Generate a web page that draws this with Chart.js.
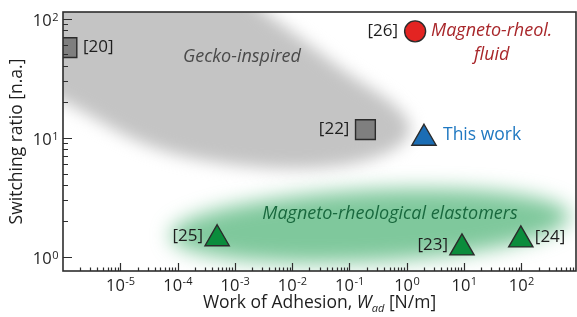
<!DOCTYPE html>
<html>
<head>
<meta charset="utf-8">
<script src="https://cdn.jsdelivr.net/npm/chart.js@4"></script>
<style>
  body { margin: 0; background: #fff; }
  #wrap { width: 577px; height: 317px; }
</style>
</head>
<body>
<div id="wrap"><canvas id="chart" width="577" height="317"></canvas></div>
<script>
const FONT = '"Open Sans", sans-serif';

// values
const geckoX = [1.17e-6, 0.19];
const geckoY = [57, 11.7];
const geckoRefs = ['[20]', '[22]'];

const fluidX = [1.4];
const fluidY = [78];
const fluidRefs = ['[26]'];

const thisX = [2.0];
const thisY = [9.9];

const mreX = [4.9e-4, 9.2, 98];
const mreY = [1.42, 1.19, 1.39];
const mreRefs = ['[25]', '[23]', '[24]'];

const xExponents = [-5, -4, -3, -2, -1, 0, 1, 2];
const yExponents = [0, 1, 2];

// shaded group outlines, in log10 data units
const geckoZoneLogX = [-7.10, -6.0, -4.48, -2.74, -1.25, -0.26, 0.15, -0.20, -0.99, -1.86, -2.65, -3.26, -7.10];
const geckoZoneLogY = [1.533, 1.320, 0.890, 0.740, 0.740, 0.870, 1.060, 1.290, 1.520, 1.840, 2.110, 2.417, 2.417];
const mreZone = { logX: -0.642, logY: 0.261, rxDec: 3.49, ryDec: 0.30, tilt: -0.05 };

function pts(xs, ys) {
  return xs.map((x, i) => ({ x: x, y: ys[i] }));
}

const zones = {
  id: 'zones',
  beforeDatasetsDraw(chart) {
    const ctx = chart.ctx, a = chart.chartArea;
    const xs = chart.scales.x, ys = chart.scales.y;
    ctx.save();
    ctx.beginPath();
    ctx.rect(a.left, a.top, a.right - a.left, a.bottom - a.top);
    ctx.clip();

    // gecko-inspired (gray)
    const p = geckoZoneLogX.map((lx, i) => [xs.getPixelForValue(Math.pow(10, lx)), ys.getPixelForValue(Math.pow(10, geckoZoneLogY[i]))]);
    ctx.filter = 'blur(8px)';
    ctx.fillStyle = '#c4c4c4';
    ctx.beginPath();
    const n = p.length;
    const mid = (u, v) => [(u[0] + v[0]) / 2, (u[1] + v[1]) / 2];
    let m0 = mid(p[n - 1], p[0]);
    ctx.moveTo(m0[0], m0[1]);
    for (let i = 0; i < n; i++) {
      const m = mid(p[i], p[(i + 1) % n]);
      ctx.quadraticCurveTo(p[i][0], p[i][1], m[0], m[1]);
    }
    ctx.closePath();
    ctx.fill();

    // magneto-rheological elastomers (green)
    const cx = xs.getPixelForValue(Math.pow(10, mreZone.logX));
    const cy = ys.getPixelForValue(Math.pow(10, mreZone.logY));
    const rx = xs.getPixelForValue(Math.pow(10, mreZone.logX + mreZone.rxDec)) - cx;
    const ry = cy - ys.getPixelForValue(Math.pow(10, mreZone.logY + mreZone.ryDec));
    ctx.filter = 'blur(10px)';
    ctx.fillStyle = 'rgba(60,172,104,0.66)';
    ctx.beginPath();
    ctx.ellipse(cx, cy, rx, ry, mreZone.tilt, 0, Math.PI * 2);
    ctx.fill();
    ctx.restore();
  }
};

const texts = {
  id: 'texts',
  afterDatasetsDraw(chart) {
    const ctx = chart.ctx, a = chart.chartArea;
    const xs = chart.scales.x, ys = chart.scales.y;
    ctx.save();
    ctx.textBaseline = 'middle';

    // reference numbers next to the markers
    ctx.font = '17px ' + FONT;
    ctx.fillStyle = '#1e1e1e';
    chart.data.datasets.forEach((ds, di) => {
      if (!ds.refs) return;
      chart.getDatasetMeta(di).data.forEach((pt, i) => {
        const side = ds.refSide[i];
        ctx.textAlign = side > 0 ? 'left' : 'right';
        ctx.fillText(ds.refs[i], pt.x + side * ds.refGap, pt.y + ds.refDy);
      });
    });

    // group names
    ctx.font = 'italic 18px ' + FONT;
    ctx.textAlign = 'center';
    ctx.fillStyle = '#4a4a4a';
    ctx.fillText('Gecko-inspired', xs.getPixelForValue(1.33e-3), ys.getPixelForValue(48));
    ctx.fillStyle = '#19693e';
    ctx.fillText('Magneto-rheological elastomers', xs.getPixelForValue(0.51), ys.getPixelForValue(2.3));

    const fp = chart.getDatasetMeta(1).data[0];
    ctx.fillStyle = '#a8262a';
    ctx.textAlign = 'left';
    const t1 = 'Magneto-rheol.';
    ctx.fillText(t1, fp.x + 16, fp.y);
    const w1 = ctx.measureText(t1).width;
    ctx.textAlign = 'center';
    ctx.fillText('fluid', fp.x + 16 + w1 / 2, fp.y + 24);

    const tp = chart.getDatasetMeta(2).data[0];
    ctx.font = '17.5px ' + FONT;
    ctx.fillStyle = '#1f78c1';
    ctx.textAlign = 'left';
    ctx.fillText('This work', tp.x + 19, tp.y - 3);
    ctx.restore();
  }
};

const frame = {
  id: 'frame',
  afterDraw(chart) {
    const ctx = chart.ctx, a = chart.chartArea;
    const xs = chart.scales.x, ys = chart.scales.y;
    ctx.save();
    ctx.strokeStyle = '#2d2d2d';
    ctx.lineWidth = 1.2;
    const isWhole = v => {
      const s = v / Math.pow(10, Math.floor(Math.log10(v) + 1e-9));
      return Math.abs(s - Math.round(s)) < 1e-6;
    };
    const isMajor = v => Math.abs(Math.log10(v) - Math.round(Math.log10(v))) < 1e-6;
    ctx.beginPath();
    xs.ticks.forEach(t => {
      if (!isWhole(t.value)) return;
      const px = Math.round(xs.getPixelForValue(t.value)) + 0.5;
      if (px <= a.left + 1 || px >= a.right - 1) return;
      const len = isMajor(t.value) ? 8 : 3.5;
      ctx.moveTo(px, a.bottom);
      ctx.lineTo(px, a.bottom - len);
    });
    ys.ticks.forEach(t => {
      if (!isWhole(t.value) || t.value < 1) return;
      const py = Math.round(ys.getPixelForValue(t.value)) + 0.5;
      if (py <= a.top + 1 || py >= a.bottom - 1) return;
      const len = isMajor(t.value) ? 9 : 5;
      ctx.moveTo(a.left, py);
      ctx.lineTo(a.left + len, py);
    });
    ctx.stroke();

    ctx.lineWidth = 1.6;
    ctx.strokeRect(a.left, a.top, a.right - a.left, a.bottom - a.top);

    // tick labels with superscript exponents
    ctx.fillStyle = '#1e1e1e';
    ctx.textBaseline = 'alphabetic';
    ctx.textAlign = 'left';
    const big = '16.5px ' + FONT, small = '11px ' + FONT;
    xExponents.forEach(e => {
      const px = xs.getPixelForValue(Math.pow(10, e));
      const ex = String(e);
      ctx.font = big; const w0 = ctx.measureText('10').width;
      ctx.font = small; const w1 = ctx.measureText(ex).width;
      const x0 = px - (w0 + w1) / 2;
      ctx.font = big; ctx.fillText('10', x0, 291);
      ctx.font = small; ctx.fillText(ex, x0 + w0 + 0.5, 285);
    });
    yExponents.forEach(e => {
      const py = ys.getPixelForValue(Math.pow(10, e));
      const ex = String(e);
      ctx.font = small; const w1 = ctx.measureText(ex).width;
      ctx.font = big; const w0 = ctx.measureText('10').width;
      const x0 = a.left - 5 - w1 - w0;
      ctx.fillText('10', x0, py + 7);
      ctx.font = small; ctx.fillText(ex, x0 + w0 + 0.5, py + 2);
    });

    // x axis title with italic W_ad
    const parts = [
      ['Work of Adhesion, ', '17.5px ' + FONT, 0],
      ['W', 'italic 17.5px ' + FONT, 0],
      ['ad', 'italic 11px ' + FONT, 4],
      [' [N/m]', '17.5px ' + FONT, 0]
    ];
    let total = 0;
    parts.forEach(pp => { ctx.font = pp[1]; total += ctx.measureText(pp[0]).width; });
    let x = (a.left + a.right) / 2 - total / 2;
    parts.forEach(pp => {
      ctx.font = pp[1];
      ctx.fillText(pp[0], x, 308 + pp[2]);
      x += ctx.measureText(pp[0]).width;
    });

    // y axis title
    ctx.translate(17, (a.top + a.bottom) / 2);
    ctx.rotate(-Math.PI / 2);
    ctx.font = '17.5px ' + FONT;
    ctx.textAlign = 'center';
    ctx.textBaseline = 'middle';
    ctx.fillText('Switching ratio [n.a.]', 0, 0);
    ctx.restore();
  }
};

new Chart(document.getElementById('chart'), {
  type: 'scatter',
  data: {
    datasets: [
      {
        label: 'Gecko-inspired',
        data: pts(geckoX, geckoY),
        pointStyle: 'rect',
        pointRadius: 14,
        backgroundColor: '#7f7f7f',
        borderColor: '#2b2b2b',
        borderWidth: 1.4,
        clip: 0,
        refs: geckoRefs, refSide: [1, -1], refGap: 16, refDy: 0
      },
      {
        label: 'Magneto-rheol. fluid',
        data: pts(fluidX, fluidY),
        pointStyle: 'circle',
        pointRadius: 10.5,
        backgroundColor: '#e32422',
        borderColor: '#2b2b2b',
        borderWidth: 1.4,
        refs: fluidRefs, refSide: [-1], refGap: 17, refDy: 0
      },
      {
        label: 'This work',
        data: pts(thisX, thisY),
        pointStyle: 'triangle',
        pointRadius: 14,
        backgroundColor: '#1b6db4',
        borderColor: '#2b2b2b',
        borderWidth: 1.4
      },
      {
        label: 'Magneto-rheological elastomers',
        data: pts(mreX, mreY),
        pointStyle: 'triangle',
        pointRadius: 14,
        backgroundColor: '#0b8c3c',
        borderColor: '#2b2b2b',
        borderWidth: 1.4,
        refs: mreRefs, refSide: [-1, -1, 1], refGap: 14, refDy: -3
      }
    ]
  },
  options: {
    responsive: false,
    animation: false,
    layout: { autoPadding: false, padding: { top: 12, right: 1, left: 0, bottom: 0 } },
    plugins: { legend: { display: false }, tooltip: { enabled: false } },
    scales: {
      x: {
        type: 'logarithmic',
        min: 1e-6,
        max: 900,
        grid: { display: false },
        border: { display: false },
        ticks: { display: false, autoSkip: false },
        afterFit: s => { s.height = 46; }
      },
      y: {
        type: 'logarithmic',
        min: 0.762,
        max: 113.4,
        grid: { display: false },
        border: { display: false },
        ticks: { display: false, autoSkip: false },
        afterFit: s => { s.width = 63; }
      }
    }
  },
  plugins: [zones, texts, frame]
});
</script>
</body>
</html>
